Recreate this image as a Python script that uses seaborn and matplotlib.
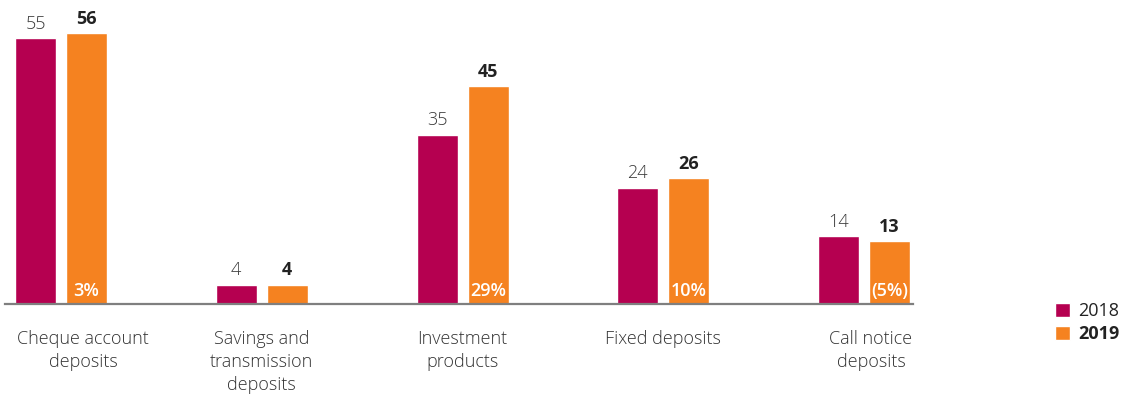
import matplotlib
matplotlib.use("Agg")
import matplotlib.pyplot as plt
import seaborn as sns
import pandas as pd
from matplotlib.patches import Patch

# Deposit categories and yearly balances
categories = [
    "Cheque account\ndeposits",
    "Savings and\ntransmission\ndeposits",
    "Investment\nproducts",
    "Fixed deposits",
    "Call notice\ndeposits",
]
years = ["2018", "2019"]
values_2018 = [55, 4, 35, 24, 14]
values_2019 = [56, 4, 45, 26, 13]
growth_labels = ["3%", "", "29%", "10%", "(5%)"]

MAGENTA = "#B50050"
ORANGE = "#F58220"
TEXT = "#333333"

df = pd.DataFrame({
    "category": categories * 2,
    "year": [years[0]] * len(categories) + [years[1]] * len(categories),
    "value": values_2018 + values_2019,
})

sns.set_theme(style="white")
plt.rcParams["font.family"] = ["Open Sans", "DejaVu Sans"]

W, H = 1125, 396
fig = plt.figure(figsize=(W / 100, H / 100), dpi=100)
ax = fig.add_axes([5 / W, 92 / H, 908 / W, 290 / H])

sns.barplot(
    data=df, x="category", y="value", hue="year", hue_order=years,
    palette=[MAGENTA, ORANGE], saturation=1, width=0.508, gap=0.196,
    legend=False, ax=ax,
)

ax.set_xlim(-0.279, 4.244)
ax.set_ylim(0, 60)
ax.set_xlabel("")
ax.set_ylabel("")
ax.set_xticks([])
ax.set_yticks([])
for side in ("top", "right", "left"):
    ax.spines[side].set_visible(False)
ax.spines["bottom"].set_color("#7f7f7f")
ax.spines["bottom"].set_linewidth(1.6)

FS = 13

# Value labels above the bars
ax.bar_label(ax.containers[0], labels=[str(v) for v in values_2018],
             padding=4, fontsize=FS, color="#3a3a3a", fontweight="light",
             clip_on=False)
ax.bar_label(ax.containers[1], labels=[str(v) for v in values_2019],
             padding=4, fontsize=FS, color="#222222", fontweight="bold",
             clip_on=False)

# Year-on-year change printed at the foot of the 2019 bars
for bar, txt in zip(ax.containers[1], growth_labels):
    if txt:
        ax.annotate(txt, (bar.get_x() + bar.get_width() / 2, 0),
                    xytext=(0, 3), textcoords="offset points",
                    ha="center", va="bottom", color="white",
                    fontsize=FS, fontweight="semibold")

# Category names under the axis
for i, name in enumerate(categories):
    shift = 16 if i == 0 else (5 if i == len(categories) - 1 else 0)
    ax.annotate(name, (i, 0), xytext=(shift, -19), textcoords="offset points",
                ha="center", va="top", color=TEXT, fontsize=FS,
                fontweight="light", linespacing=1.33, annotation_clip=False)

# Legend
handles = [Patch(facecolor=MAGENTA, label=years[0]),
           Patch(facecolor=ORANGE, label=years[1])]
leg = fig.legend(handles=handles, loc="upper left",
                 bbox_to_anchor=(1055 / W, 1 - 302 / H), frameon=False,
                 fontsize=FS, handlelength=0.83, handleheight=0.83,
                 handletextpad=0.45, labelspacing=0.3, borderaxespad=0,
                 borderpad=0)
for t in leg.get_texts():
    t.set_color("#222222")
leg.get_texts()[1].set_fontweight("bold")

fig.savefig("out.png", dpi=100)
